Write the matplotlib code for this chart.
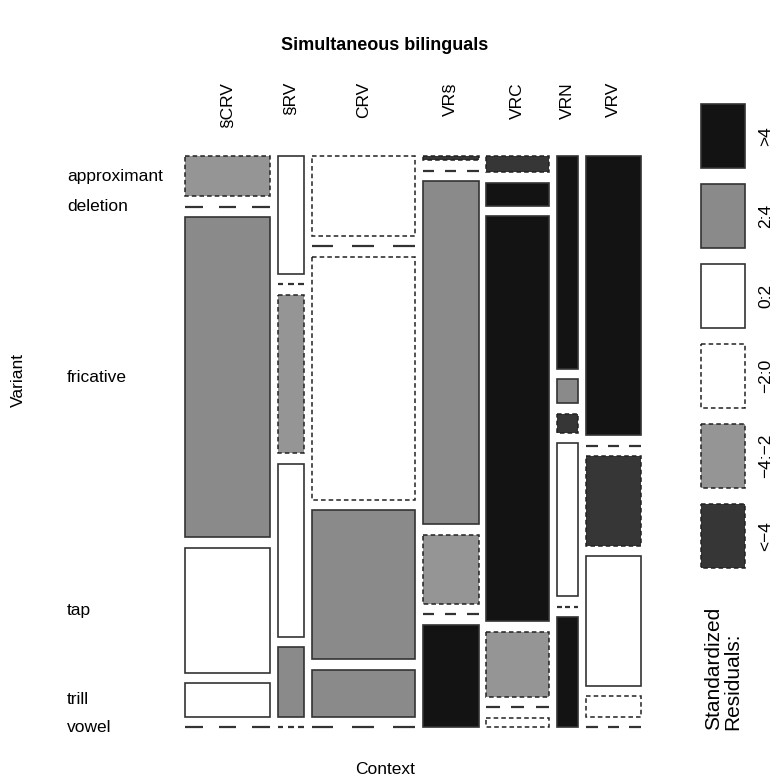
import numpy as np
import matplotlib.pyplot as plt
from matplotlib.patches import Rectangle

plt.rcParams['font.family'] = ['Liberation Sans', 'DejaVu Sans']

contexts = ["§CRV", "§RV", "CRV", "VR§", "VRC", "VRN", "VRV"]
variants = ["approximant", "deletion", "fricative", "tap", "trill", "vowel"]

# relative size of each context (column width)
context_totals = [85, 26, 103, 56, 63, 21, 55]

# relative size of each variant inside a context (column order = variants)
scrv_sizes = [40, 0, 319, 125, 33, 0]
srv_sizes = [117, 0, 158, 172, 69, 0]
crv_sizes = [80, 0, 243, 149, 47, 0]
vrs_sizes = [4, 0, 342, 69, 0, 102]
vrc_sizes = [16, 23, 405, 65, 0, 9]
vrn_sizes = [213, 24, 19, 153, 0, 110]
vrv_sizes = [278, 0, 89, 129, 20, 0]
cell_sizes = [scrv_sizes, srv_sizes, crv_sizes, vrs_sizes,
              vrc_sizes, vrn_sizes, vrv_sizes]

# standardized residual class of each cell
scrv_res = ["-4:-2", "-2:0", "2:4", "0:2", "0:2", "-2:0"]
srv_res = ["0:2", "-2:0", "-4:-2", "0:2", "2:4", "-2:0"]
crv_res = ["-2:0", "-2:0", "-2:0", "2:4", "2:4", "-2:0"]
vrs_res = ["<-4", "-2:0", "2:4", "-4:-2", "-2:0", ">4"]
vrc_res = ["<-4", ">4", ">4", "-4:-2", "-2:0", "-2:0"]
vrn_res = [">4", "2:4", "<-4", "0:2", "-2:0", ">4"]
vrv_res = [">4", "-2:0", "<-4", "0:2", "-2:0", "-2:0"]
cell_res = [scrv_res, srv_res, crv_res, vrs_res, vrc_res, vrn_res, vrv_res]

legend_classes = [">4", "2:4", "0:2", "-2:0", "-4:-2", "<-4"]
legend_labels = [">4", "2:4", "0:2", "\u22122:0", "\u22124:\u22122", "<\u22124"]

fills = {">4": "#131313", "2:4": "#8a8a8a", "0:2": "white",
         "-2:0": "white", "-4:-2": "#959595", "<-4": "#363636"}


def cell_style(cls):
    if cls.startswith("-") or cls.startswith("<"):
        return dict(linestyle=(0, (3, 2)), edgecolor="#222222", linewidth=1.1)
    return dict(linestyle="-", edgecolor="#333333", linewidth=1.2)


fig = plt.figure(figsize=(7.73, 7.79), dpi=100)
ax = fig.add_axes([0, 0, 1, 1])
ax.set_xlim(0, 773)
ax.set_ylim(779, 0)
ax.axis("off")

# plot region and spacing
left, right, top, bottom = 185, 641, 156, 727
col_gap, row_gap = 7.8, 10.5

avail_w = (right - left) - col_gap * (len(contexts) - 1)
avail_h = (bottom - top) - row_gap * (len(variants) - 1)
tot = float(sum(context_totals))

x = left
for ci, ctx in enumerate(contexts):
    w = avail_w * context_totals[ci] / tot
    sizes = cell_sizes[ci]
    s = float(sum(sizes))
    y = top
    for ri, var in enumerate(variants):
        h = avail_h * sizes[ri] / s
        cls = cell_res[ci][ri]
        if h == 0:
            # empty cell -> broken line
            for a, b in [(0, 0.21), (0.395, 0.605), (0.79, 1.0)]:
                ax.plot([x + a * w, x + b * w], [y, y], color="#333333",
                        lw=1.6, solid_capstyle="butt")
        else:
            ax.add_patch(Rectangle((x, y), w, h, facecolor=fills[cls],
                                   **cell_style(cls)))
        if ci == 0:
            ax.text(67, y + h / 2, var, ha="left", va="center", fontsize=12.5)
        y += h + row_gap
    ax.text(x + w / 2, 82, ctx, rotation=90, ha="center", va="top",
            fontsize=12.5)
    x += w + col_gap

# legend
for i, cls in enumerate(legend_classes):
    y0 = 104 + i * 80
    ax.add_patch(Rectangle((701, y0), 44, 64, facecolor=fills[cls],
                           **cell_style(cls)))
    ax.text(766, y0 + 32, legend_labels[i], rotation=90, ha="center",
            va="center", fontsize=12.5)
ax.text(723, 730, "Standardized\nResiduals:", rotation=90, ha="center",
        va="bottom", multialignment="left", fontsize=15, linespacing=1.0)

ax.text(385, 45, "Simultaneous bilinguals", ha="center", va="center",
        fontsize=13, fontweight="bold")
ax.text(385, 770, "Context", ha="center", va="center", fontsize=12.5)
ax.text(18, 380, "Variant", rotation=90, ha="center", va="center",
        fontsize=12.5)

fig.savefig("out.png", dpi=100)
